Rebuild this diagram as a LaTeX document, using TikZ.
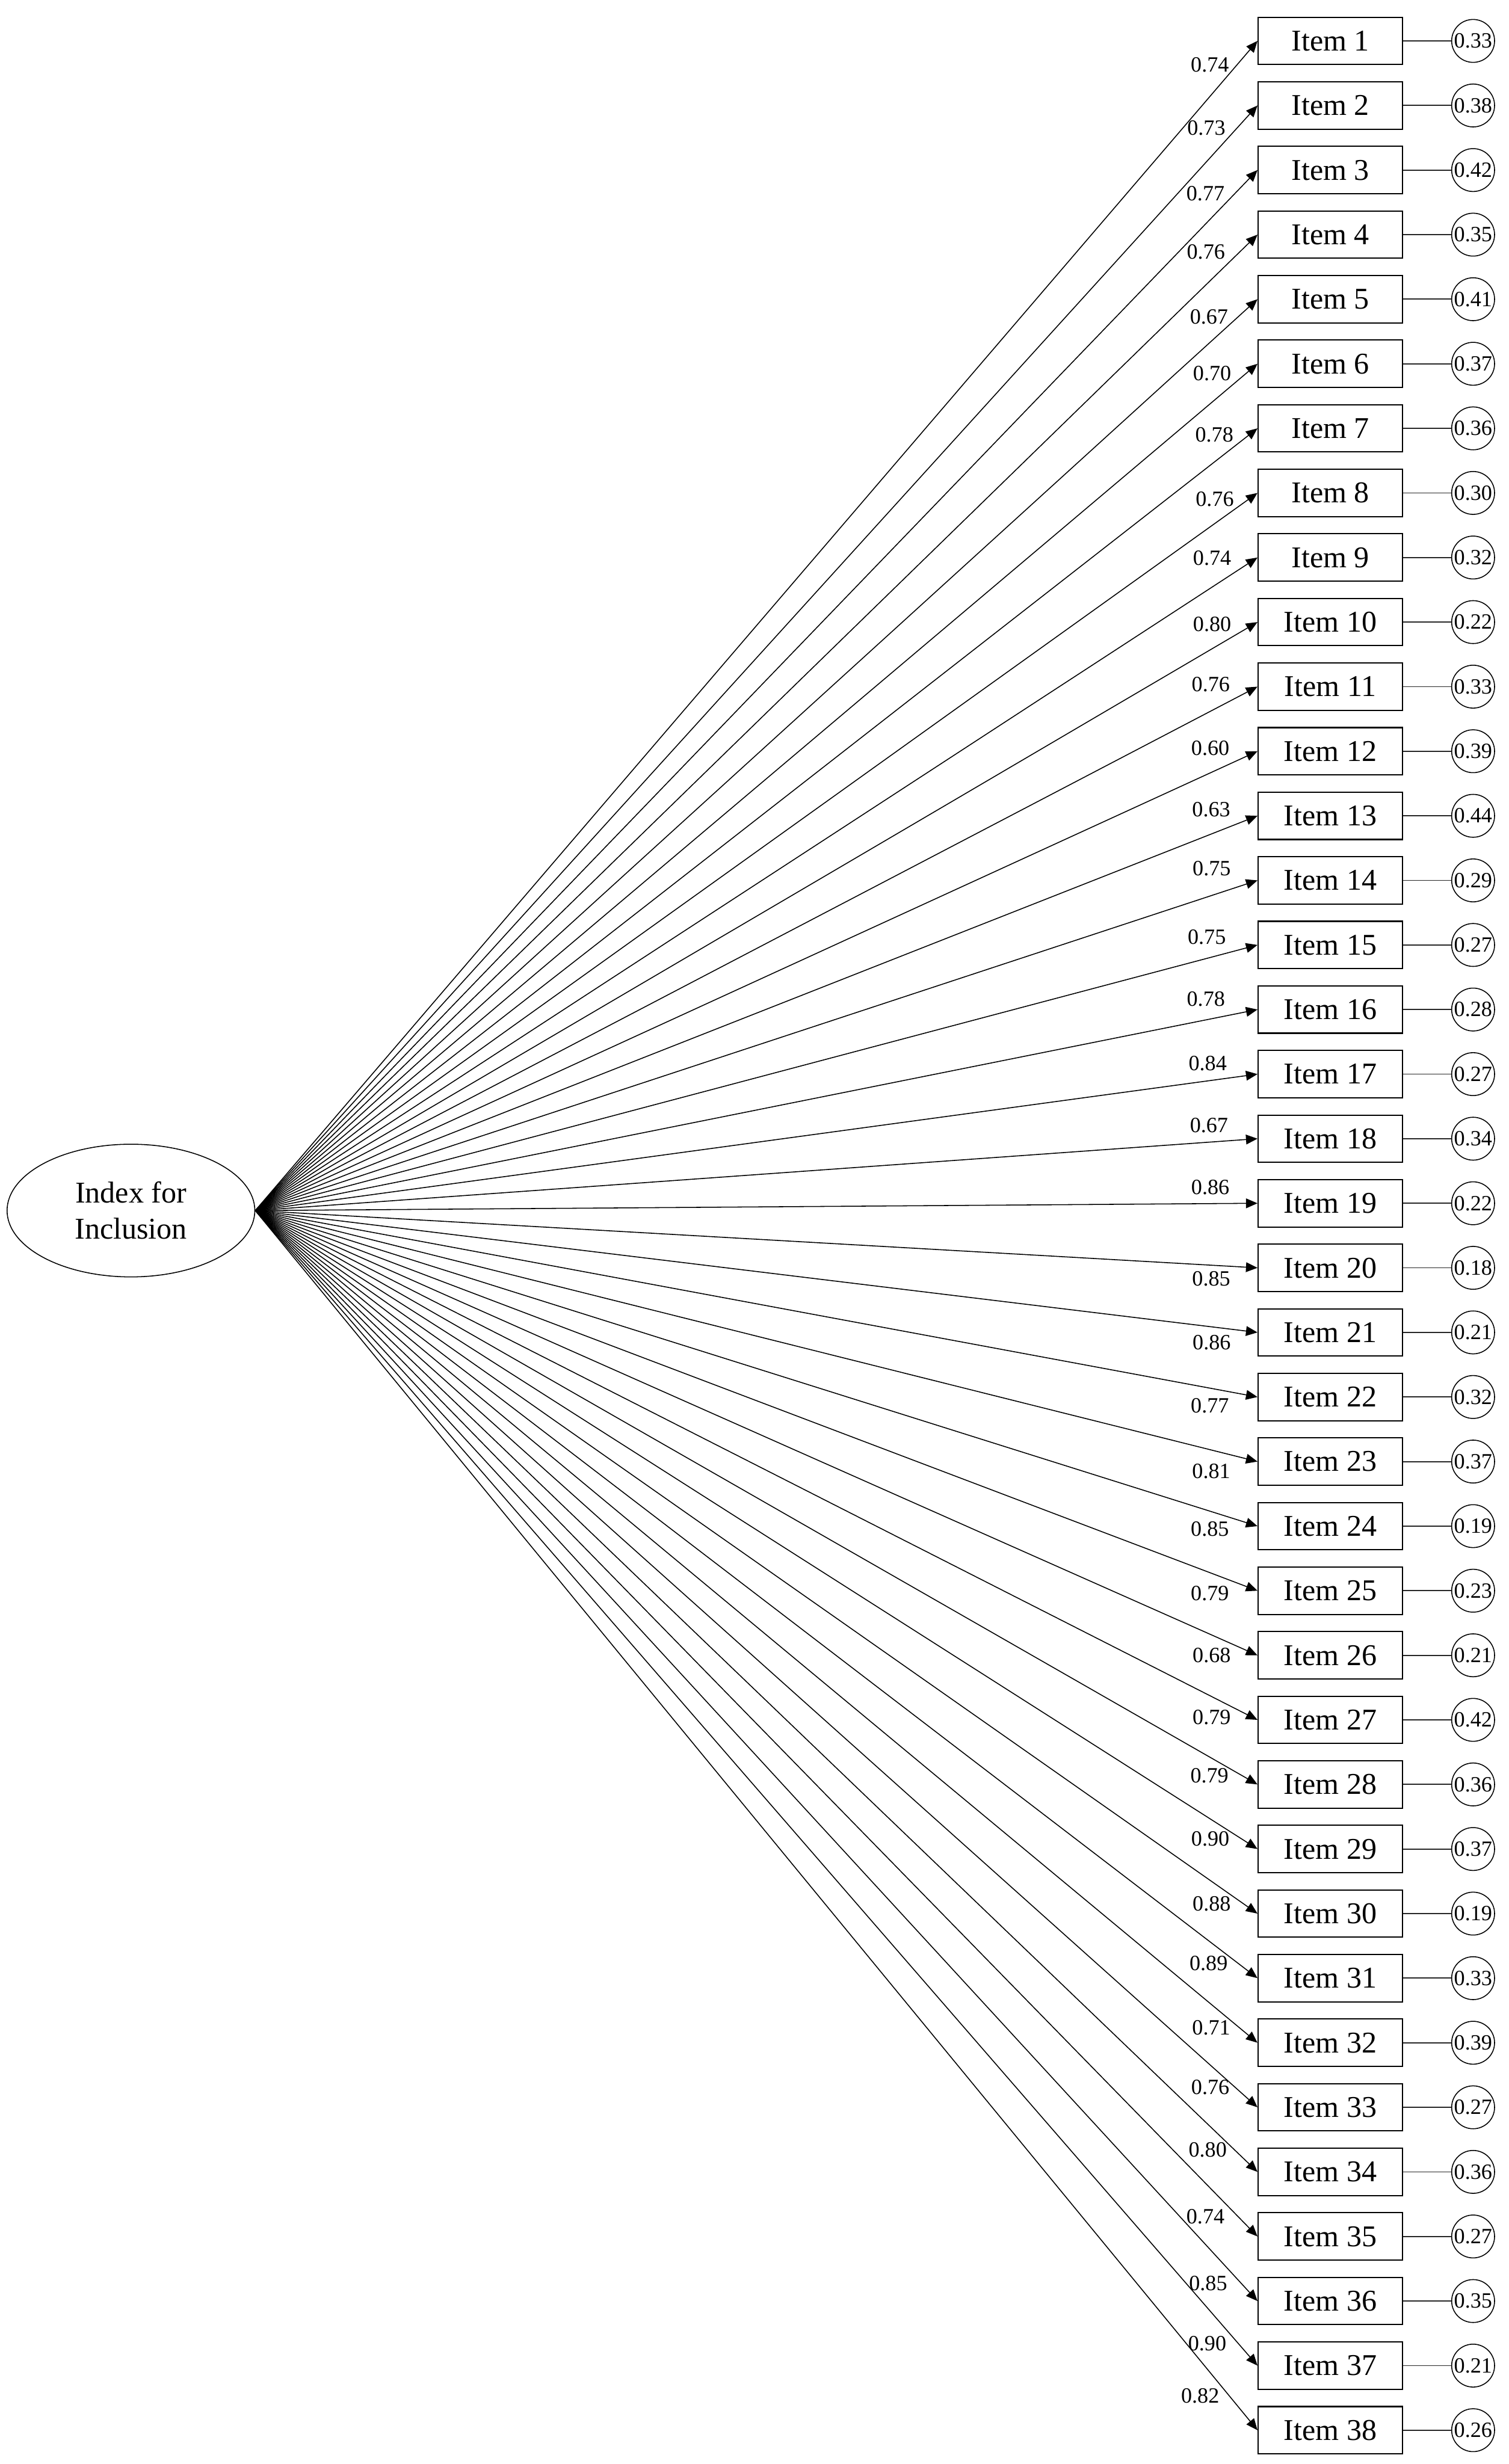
\documentclass[tikz,border=0pt]{standalone}
\usepackage{fontspec}
\setmainfont{Liberation Serif}
\usetikzlibrary{shapes.geometric,arrows.meta}
\tikzset{
  itembox/.style={draw, line width=0.8pt, minimum width=3.27cm, minimum height=1.07cm, inner sep=0pt, font=\fontsize{19.4}{23.3}\selectfont},
  resid/.style={draw, line width=0.6pt, circle, minimum size=0.97cm, inner sep=0pt, font=\fontsize{14}{16}\selectfont},
  latent/.style={draw, line width=0.6pt, ellipse, minimum width=5.6cm, minimum height=3.0cm, inner sep=0pt, align=center, font=\fontsize{19.4}{23.3}\selectfont},
  loadlab/.style={inner sep=0pt, font=\fontsize{14}{16}\selectfont},
  loadarrow/.style={line width=0.6pt, -{Triangle[length=0.26cm, width=0.22cm]}},
  residline/.style={line width=0.7pt, draw=black!85}
}
\begin{document}
\begin{tikzpicture}
\useasboundingbox (0,0) rectangle (34.10,-55.71);
\node[latent] (F) at (2.96,-27.37) {Index for\\Inclusion};
\foreach \i/\l/\lx/\ly/\r in {
1/0.74/2735/147/0.33, 2/0.73/2727/290/0.38, 3/0.77/2725/438/0.42, 4/0.76/2726/569/0.35,
5/0.67/2733/716/0.41, 6/0.70/2740/844/0.37, 7/0.78/2745/983/0.36, 8/0.76/2746/1128/0.30,
9/0.74/2740/1262/0.32, 10/0.80/2740/1412/0.22, 11/0.76/2737/1548/0.33, 12/0.60/2736/1692/0.39,
13/0.63/2738/1830/0.44, 14/0.75/2739/1964/0.29, 15/0.75/2728/2118/0.27, 16/0.78/2726/2259/0.28,
17/0.84/2730/2404/0.27, 18/0.67/2733/2544/0.34, 19/0.86/2736/2684/0.22, 20/0.85/2738/2891/0.18,
21/0.86/2739/3036/0.21, 22/0.77/2735/3178/0.32, 23/0.81/2738/3326/0.37, 24/0.85/2735/3457/0.19,
25/0.79/2735/3602/0.23, 26/0.68/2739/3743/0.21, 27/0.79/2739/3883/0.42, 28/0.79/2734/4014/0.36,
29/0.90/2736/4158/0.37, 30/0.88/2739/4304/0.19, 31/0.89/2732/4439/0.33, 32/0.71/2738/4585/0.39,
33/0.76/2736/4719/0.27, 34/0.80/2730/4861/0.36, 35/0.74/2725/5011/0.27, 36/0.85/2731/5162/0.35,
37/0.90/2729/5299/0.21, 38/0.82/2713/5417/0.26}{
  \pgfmathsetmacro{\yc}{-(92.5+146*(\i-1))/100}
  \node[itembox] (box\i) at (30.075,\yc) {Item \i};
  \node[resid] (res\i) at (33.30,\yc) {\r};
  \draw[residline] (box\i.east) -- (res\i.west);
  \draw[loadarrow] (F.east) -- (box\i.west);
  \node[loadlab] (lab\i) at ({\lx/100},{-\ly/100}) {\l};
}
\end{tikzpicture}
\end{document}
